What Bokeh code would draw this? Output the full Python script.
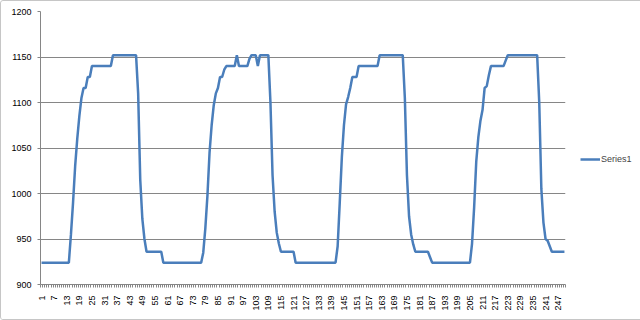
import math
from bokeh.plotting import figure
from bokeh.models import Range1d, FixedTicker, Legend, LegendItem
from bokeh.embed import file_html
from bokeh.resources import INLINE

series_name = "Series1"

values = [
    924, 924, 924, 924, 924, 924, 924, 924, 924, 924, 924, 924, 924, 924,
    955, 990, 1030, 1060, 1085, 1105, 1116, 1116, 1128, 1128,
    1140, 1140, 1140, 1140, 1140, 1140, 1140, 1140, 1140, 1140,
    1152, 1152, 1152, 1152, 1152, 1152, 1152, 1152, 1152, 1152, 1152, 1152,
    1110, 1015, 972, 950,
    936, 936, 936, 936, 936, 936, 936, 936,
    924, 924, 924, 924, 924, 924, 924, 924, 924, 924, 924, 924, 924, 924, 924, 924, 924, 924, 924,
    935, 962, 998, 1045, 1075, 1097, 1110, 1116, 1128, 1128, 1136,
    1140, 1140, 1140, 1140, 1140,
    1152,
    1140, 1140, 1140, 1140, 1140,
    1148, 1152, 1152, 1152, 1140, 1152, 1152, 1152, 1152, 1152,
    1100, 1020, 980, 957, 945,
    936, 936, 936, 936, 936, 936, 936,
    924, 924, 924, 924, 924, 924, 924, 924, 924, 924, 924, 924, 924, 924, 924, 924, 924, 924, 924, 924,
    942, 990, 1040, 1075, 1098, 1106, 1116,
    1128, 1128, 1128,
    1140, 1140, 1140, 1140, 1140, 1140, 1140, 1140, 1140, 1140,
    1152, 1152, 1152, 1152, 1152, 1152, 1152, 1152, 1152, 1152, 1152, 1152,
    1105, 1020, 975, 955, 944,
    936, 936, 936, 936, 936, 936, 936,
    930,
    924, 924, 924, 924, 924, 924, 924, 924, 924, 924, 924, 924, 924, 924, 924, 924, 924, 924, 924,
    945, 985, 1035, 1062, 1080, 1092, 1116, 1118, 1130,
    1140, 1140, 1140, 1140, 1140, 1140, 1140,
    1146,
    1152, 1152, 1152, 1152, 1152, 1152, 1152, 1152, 1152, 1152, 1152, 1152, 1152, 1152, 1152,
    1100, 1005, 968, 950, 948, 942,
    936, 936, 936, 936, 936, 936, 936,
]

categories = list(range(1, len(values) + 1))
x_tick_labels = list(range(1, len(values) + 1, 6))
y_ticks = [900, 950, 1000, 1050, 1100, 1150, 1200]

FONT = "Liberation Sans"
GRID = "#868686"

p = figure(frame_width=525, frame_height=273, output_backend="svg", toolbar_location=None,
           x_range=Range1d(0.5, len(values) + 0.5), y_range=Range1d(900, 1200),
           min_border_left=39, min_border_right=74, min_border_top=10, min_border_bottom=35)
p.styles = {"border": "1px solid #c6c6c6", "border-radius": "3px"}
p.outline_line_color = None
p.background_fill_color = "white"
p.border_fill_color = "white"

r = p.line(categories, values, line_color="#4a7ebb", line_width=2.5)

p.xgrid.grid_line_color = None
p.ygrid.grid_line_color = GRID
p.ygrid.ticker = FixedTicker(ticks=y_ticks)

xa = p.xaxis[0]
xa.ticker = FixedTicker(ticks=x_tick_labels,
                        minor_ticks=[c - 0.5 for c in categories] + [len(values) + 0.5])
xa.major_label_orientation = math.pi / 2
xa.major_tick_out = 0
xa.major_tick_in = 0
xa.minor_tick_out = 3
xa.minor_tick_in = 0
xa.minor_tick_line_color = GRID
xa.axis_line_color = GRID
xa.major_label_standoff = 8
xa.major_label_text_font = FONT
xa.major_label_text_font_size = "9px"
xa.major_label_text_color = "#000000"

ya = p.yaxis[0]
ya.ticker = FixedTicker(ticks=y_ticks)
ya.major_tick_out = 3
ya.major_tick_in = 0
ya.minor_tick_out = 0
ya.minor_tick_in = 0
ya.major_tick_line_color = GRID
ya.axis_line_color = GRID
ya.major_label_standoff = 6
ya.major_label_text_font = FONT
ya.major_label_text_font_size = "9px"
ya.major_label_text_color = "#000000"

legend = Legend(items=[LegendItem(label=series_name, renderers=[r])],
                location=(15, 119), padding=0, margin=0, spacing=0,
                glyph_width=20, glyph_height=12, label_standoff=1,
                label_text_font=FONT, label_text_font_size="9px",
                border_line_color=None, background_fill_alpha=0)
p.add_layout(legend, "right")

open("out.html", "w").write(file_html(p, INLINE))
